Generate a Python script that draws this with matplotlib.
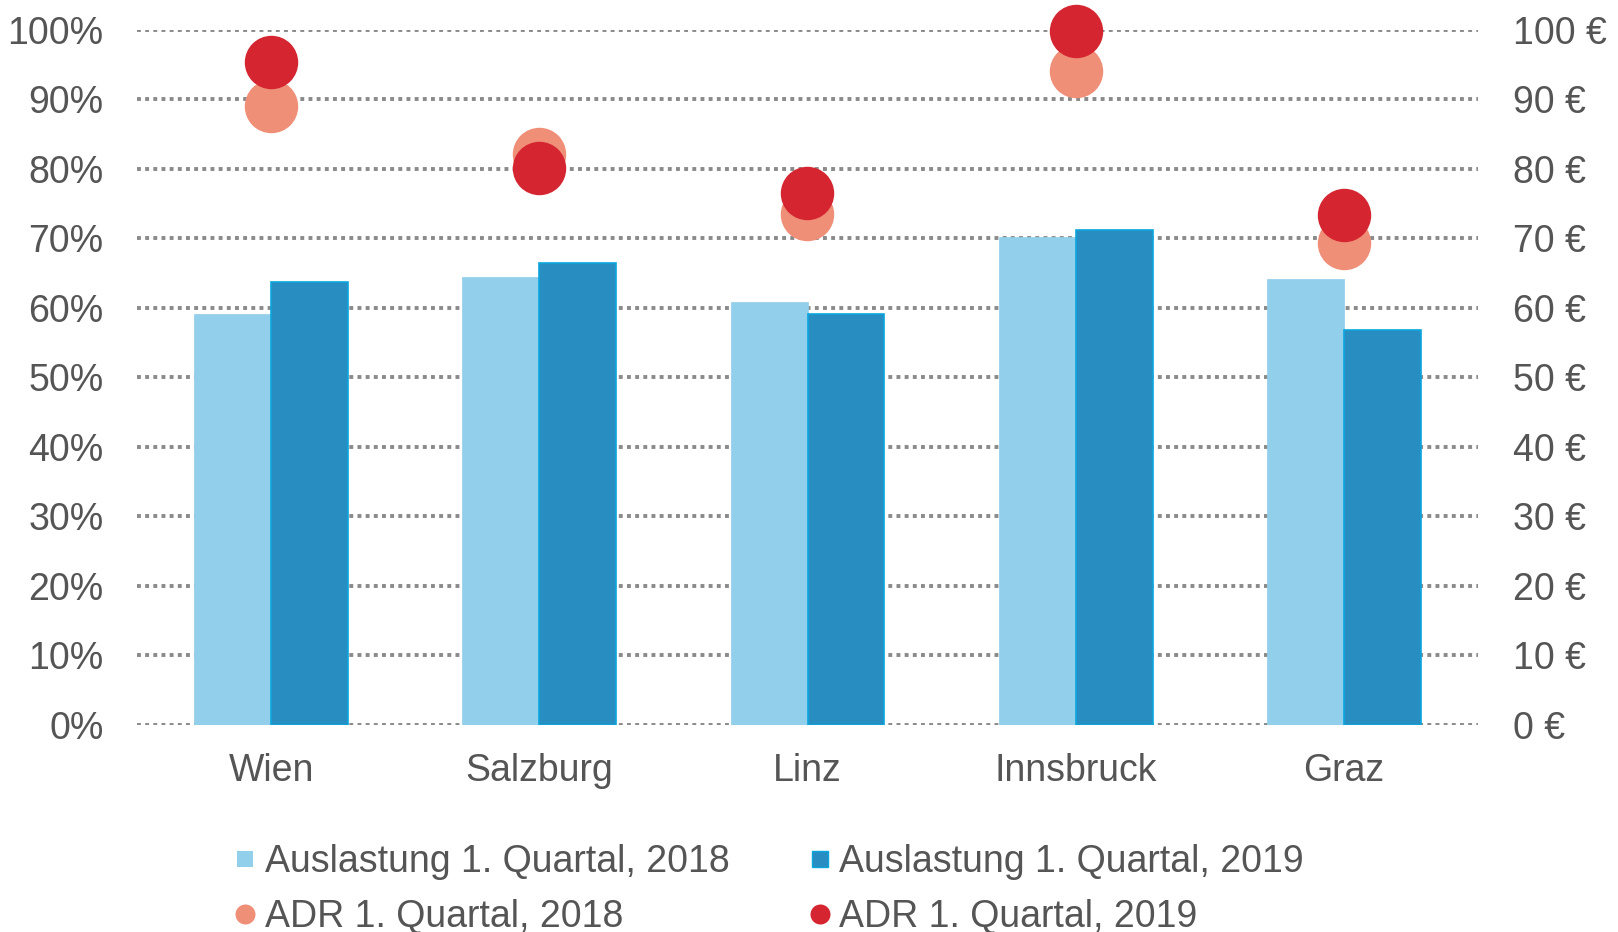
import matplotlib
matplotlib.use('Agg')
import matplotlib.pyplot as plt
from matplotlib.lines import Line2D
import numpy as np

plt.rcParams['font.family'] = ['Liberation Sans', 'DejaVu Sans']

staedte = ['Wien', 'Salzburg', 'Linz', 'Innsbruck', 'Graz']
auslastung_2018 = [59.1, 64.4, 60.8, 70.1, 64.1]
auslastung_2019 = [63.7, 66.4, 59.1, 71.2, 56.8]
adr_2018 = [89.0, 82.1, 73.5, 94.1, 69.3]
adr_2019 = [95.3, 80.1, 76.5, 99.8, 73.4]

pct_ticks = list(range(0, 101, 10))
eur_ticks = list(range(0, 101, 10))

c_light = '#92cfea'
c_dark = '#288dc1'
c_edge = '#0aa6dc'
c_adr18 = '#f08f78'
c_adr19 = '#d42530'
c_text = '#555555'
c_grid = '#8a8a8a'
fs = 27

fig = plt.figure(figsize=(16.18, 9.32), dpi=100)
ax = fig.add_axes([137/1618, 207/932, (1478-137)/1618, (725-29.5)/932])

x = np.arange(len(staedte))
w = 0.287
ax.bar(x - w/2, auslastung_2018, w, color=c_light, edgecolor=c_light,
       linewidth=0.5, zorder=2)
ax.bar(x + w/2, auslastung_2019, w, color=c_dark, edgecolor=c_edge,
       linewidth=1.2, zorder=2)

ax.set_xlim(-0.5, len(staedte) - 0.5)
ax.set_ylim(0, 100)
ax.set_yticks(pct_ticks)
ax.set_yticklabels(['%d%%' % t for t in pct_ticks])
ax.set_xticks(x)
ax.set_xticklabels(staedte)
ax.set_axisbelow(True)
ax.yaxis.grid(True, color=c_grid, linewidth=2.8, linestyle=(0, (1.0, 1.1)))
ax.tick_params(axis='y', length=0, pad=24, labelsize=fs, labelcolor=c_text)
ax.tick_params(axis='x', length=0, pad=20, labelsize=fs, labelcolor=c_text)
for s in ax.spines.values():
    s.set_visible(False)

ax2 = ax.twinx()
ax2.set_ylim(0, 100)
ax2.set_yticks(eur_ticks)
ax2.set_yticklabels(['%d €' % t for t in eur_ticks])
ax2.tick_params(axis='y', length=0, pad=25, labelsize=fs, labelcolor=c_text)
for s in ax2.spines.values():
    s.set_visible(False)
ax2.scatter(x, adr_2018, s=1480, color=c_adr18, linewidths=0, zorder=3,
            clip_on=False)
ax2.scatter(x, adr_2019, s=1480, color=c_adr19, linewidths=0, zorder=4,
            clip_on=False)

handles = [
    Line2D([], [], linestyle='none', marker='s', markersize=11.9,
           markerfacecolor=c_light, markeredgewidth=0),
    Line2D([], [], linestyle='none', marker='o', markersize=14.4,
           markerfacecolor=c_adr18, markeredgewidth=0),
    Line2D([], [], linestyle='none', marker='s', markersize=11.9,
           markerfacecolor=c_dark, markeredgecolor=c_edge, markeredgewidth=1),
    Line2D([], [], linestyle='none', marker='o', markersize=14.4,
           markerfacecolor=c_adr19, markeredgewidth=0),
]
labels = ['Auslastung 1. Quartal, 2018', 'ADR 1. Quartal, 2018',
          'Auslastung 1. Quartal, 2019', 'ADR 1. Quartal, 2019']
leg = fig.legend(handles, labels, ncol=2, loc='upper left',
                 bbox_to_anchor=(234/1618, 1 - 844/932), frameon=False,
                 fontsize=fs, handlelength=0.6, handletextpad=0.22,
                 columnspacing=2.1, labelspacing=0.5, borderpad=0,
                 borderaxespad=0)
for t in leg.get_texts():
    t.set_color(c_text)

fig.savefig('out.png', dpi=100)
